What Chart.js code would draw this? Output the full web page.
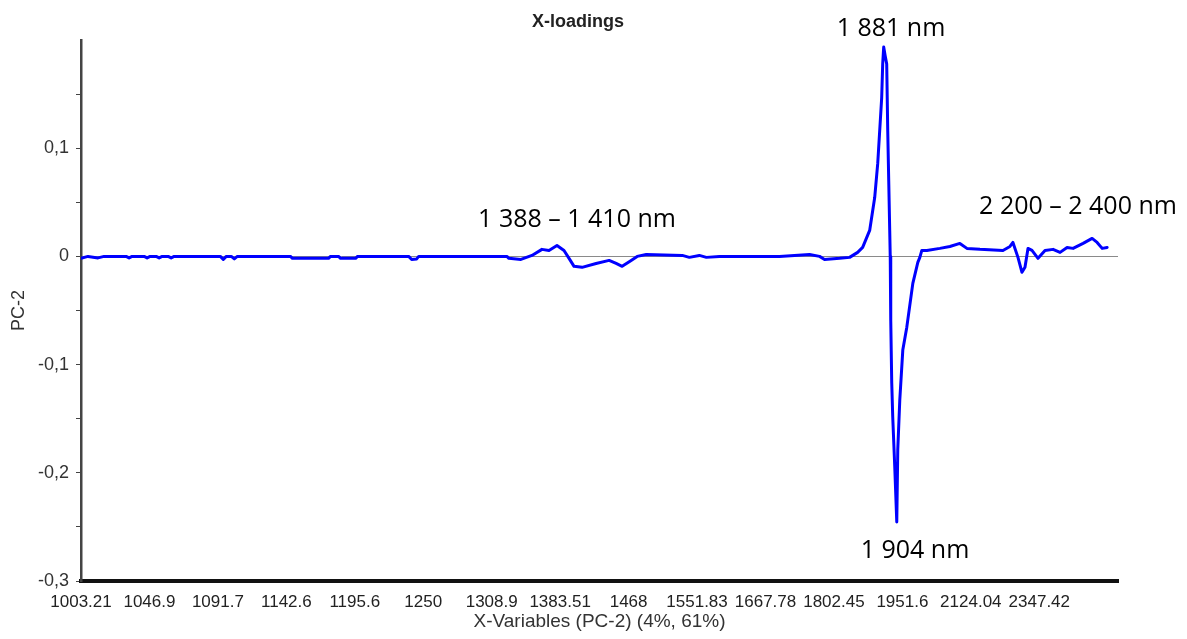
<!DOCTYPE html>
<html>
<head>
<meta charset="utf-8">
<script src="https://cdn.jsdelivr.net/npm/chart.js@4"></script>
<style>
  html, body { margin: 0; padding: 0; background: #fff; }
  #wrap { width: 1187px; height: 639px; position: relative; }
</style>
</head>
<body>
<div id="wrap"><canvas id="chart"></canvas></div>
<script>
// x tick labels (wavelength, nm) shown every 20 variables
const xTickLabels = ['1003.21', '1046.9', '1091.7', '1142.6', '1195.6', '1250', '1308.9', '1383.51',
  '1468', '1551.83', '1667.78', '1802.45', '1951.6', '2124.04', '2347.42'];

// variable position (index) and PC-2 loading
const varPos = [0, 2.05, 4.98, 6.73, 13.18, 14.05, 14.93, 18.45, 19.32, 20.2, 21.96, 22.84, 23.72,
  25.47, 26.35, 27.23, 40.7, 41.58, 42.46, 43.92, 44.8, 45.68, 61.2, 61.78, 72.32, 72.91, 75.25,
  75.84, 80.23, 80.81, 95.75, 96.62, 98.09, 98.67, 124.44, 125.02, 128.54, 131.76, 134.69, 136.74,
  139.08, 141.13, 142.6, 144.06, 146.4, 150.5, 154.31, 156.36, 158.12, 160.75, 162.51, 165.15,
  175.69, 177.74, 180.67, 182.72, 186.53, 204.1, 208.47, 212.87, 215.8, 217.26, 221.66, 224.58,
  226.92, 228.39, 230.44, 231.91, 232.79, 233.37, 233.95, 234.25, 234.54, 234.98, 235.42, 235.72,
  236.01, 236.3, 236.45, 236.6, 236.89, 237.18, 237.77, 238.36, 238.65, 239.24, 240.12, 241.29,
  243.05, 244.51, 245.1, 245.68, 247.15, 250.95, 253.88, 256.8, 258.85, 262.66, 269.38, 271.43,
  272.3, 273.77, 274.94, 275.82, 276.7, 277.87, 279.63, 281.67, 284.02, 286.07, 288.12, 289.87,
  292.8, 295.44, 296.9, 298.37, 299.83];
const loading = [-0.0018, 0, -0.0014, 0, 0, -0.0014, 0, 0, -0.0014, 0, 0, -0.0014, 0,
  0, -0.0014, 0, 0, -0.0028, 0, 0, -0.0023, 0, 0, -0.0018, -0.0018, 0, 0,
  -0.0018, -0.0018, 0, 0, -0.0028, -0.0023, 0, 0, -0.0018, -0.0028, 0.0009, 0.0065, 0.0055,
  0.0101, 0.0055, -0.0018, -0.0092, -0.0101, -0.0065, -0.0037, -0.0065, -0.0092, -0.0037, 0, 0.0018,
  0.0009, -0.0009, 0.0009, -0.0009, 0, 0, 0.0009, 0.0018, 0, -0.0028, -0.0018, -0.0009,
  0.0037, 0.0083, 0.024, 0.0544, 0.0857, 0.1161, 0.1465, 0.1779, 0.1935, 0.1853, 0.1779, 0.1161,
  0.07, 0.024, 0, -0.059, -0.117, -0.1484, -0.1945, -0.2455, -0.1788, -0.1327, -0.0866, -0.0654,
  -0.0249, -0.0055, -0.0009, 0.0055, 0.0055, 0.0074, 0.0092, 0.012, 0.0074, 0.0065, 0.0055, 0.0092,
  0.0129, -0.0009, -0.0147, -0.0101, 0.0074, 0.0055, -0.0018, 0.0055, 0.0065, 0.0037, 0.0083, 0.0074,
  0.012, 0.0166, 0.0129, 0.0074, 0.0083];

const notes = [
  { text: '1 881 nm', x: 891, y: 36 },
  { text: '1 388 \u2013 1 410 nm', x: 577, y: 227 },
  { text: '2 200 \u2013 2 400 nm', x: 1078, y: 214 },
  { text: '1 904 nm', x: 915, y: 558 }
];

const points = varPos.map((p, i) => ({ x: p, y: loading[i] }));
const sans = '"Liberation Sans", Arial, sans-serif';

const notePlugin = {
  id: 'notes',
  afterDraw(chart) {
    const ctx = chart.ctx;
    ctx.save();
    ctx.textAlign = 'center';
    ctx.textBaseline = 'alphabetic';
    ctx.fillStyle = '#222';
    ctx.font = 'bold 18px ' + sans;
    ctx.fillText('X-loadings', 578, 27);
    ctx.fillStyle = '#000';
    ctx.font = '25px "Open Sans", sans-serif';
    notes.forEach(n => ctx.fillText(n.text, n.x, n.y));
    ctx.restore();
  }
};

const isLabelled = v => {
  const k = Math.round(v * 100);
  return k % 10 === 0 && k !== 20;
};

new Chart(document.getElementById('chart'), {
  type: 'line',
  data: {
    datasets: [{
      data: points,
      borderColor: '#0000ff',
      borderWidth: 3,
      borderJoinStyle: 'round',
      borderCapStyle: 'round',
      pointRadius: 0,
      tension: 0,
      fill: false
    }]
  },
  options: {
    responsive: true,
    maintainAspectRatio: false,
    animation: false,
    layout: { padding: { top: 40, right: 69, left: 0, bottom: 0 } },
    plugins: { legend: { display: false }, tooltip: { enabled: false }, title: { display: false } },
    scales: {
      x: {
        type: 'linear',
        min: 0,
        max: 303,
        afterFit: s => { s.height = 58; },
        border: { display: true, color: '#111', width: 4 },
        grid: { display: false },
        ticks: {
          stepSize: 20,
          autoSkip: false,
          maxRotation: 0,
          color: '#222',
          padding: 3,
          font: { family: sans, size: 17 },
          callback: v => (v % 20 === 0 && xTickLabels[v / 20]) ? xTickLabels[v / 20] : ''
        },
        title: {
          display: true,
          text: 'X-Variables (PC-2) (4%, 61%)',
          color: '#333',
          padding: { top: 0, bottom: 6 },
          font: { family: sans, size: 19 }
        }
      },
      y: {
        min: -0.3,
        max: 0.2,
        afterFit: s => { s.width = 81; },
        border: { display: true, color: '#444', width: 2.5 },
        grid: {
          drawOnChartArea: true,
          tickLength: 5,
          color: c => (c.tick && Math.round(c.tick.value * 100) === 0) ? '#8a8a8a' : 'rgba(0,0,0,0)',
          tickColor: c => (c.tick && Math.round(c.tick.value * 100) === 20) ? 'rgba(0,0,0,0)' : '#444'
        },
        ticks: {
          stepSize: 0.05,
          color: '#333',
          padding: 7,
          font: { family: sans, size: 18 },
          callback: v => isLabelled(v) ? (Math.round(v * 10) / 10).toString().replace('.', ',') : ''
        },
        title: {
          display: true,
          text: 'PC-2',
          color: '#333',
          padding: { top: 8, bottom: 0 },
          font: { family: sans, size: 18 }
        }
      }
    }
  },
  plugins: [notePlugin]
});
</script>
</body>
</html>
